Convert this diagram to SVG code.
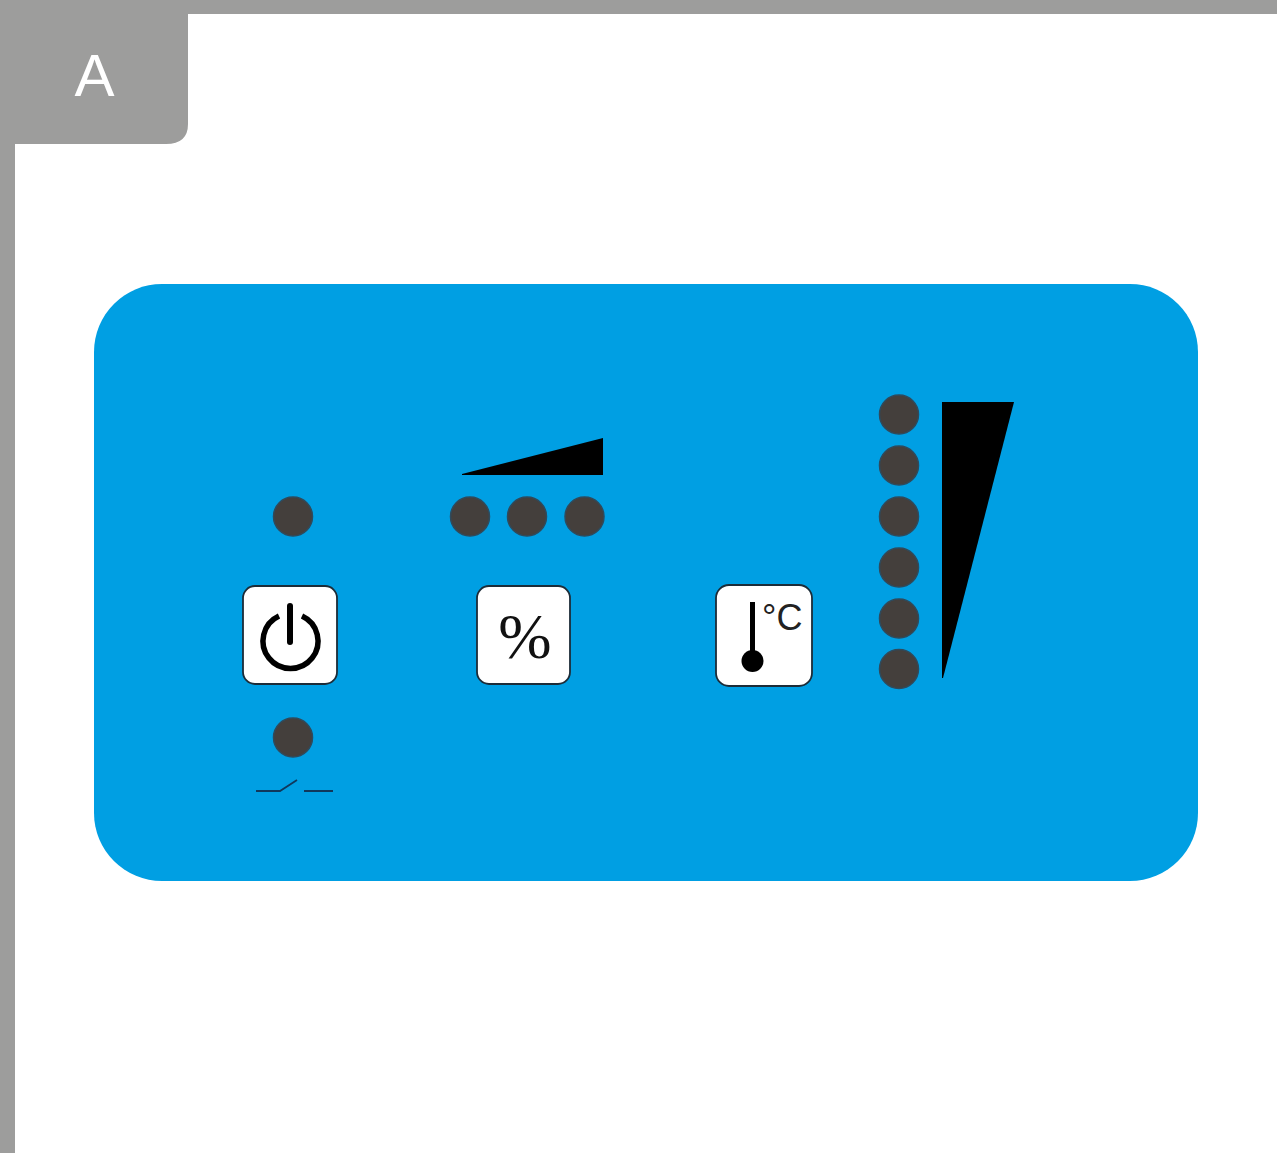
<svg xmlns="http://www.w3.org/2000/svg" width="1277" height="1153" viewBox="0 0 1277 1153">
<style>
.led{fill:#443f3c;stroke:#2f4a5c;stroke-width:1.5}
.btn{fill:#fff;stroke:#1c2c38;stroke-width:1.8}
.blk{fill:#000}
text{font-family:"Liberation Sans",Arial,sans-serif}
</style>
<rect width="1277" height="1153" fill="#fff"/>
<g id="frame">
<path fill="#9d9d9c" d="M0 0H1277V14H188V124Q188 144 166 144H15V1153H0Z"/>
<text x="94.500" y="96" font-size="60" fill="#fff" text-anchor="middle">A</text>
</g>
<rect id="panel" x="94" y="284" width="1104" height="597" rx="68" fill="#009fe3"/>
<g id="power">
<circle class="led" cx="293" cy="516.500" r="19.500"/>
<rect class="btn" x="243" y="586" width="94" height="98" rx="12"/>
<path fill="none" stroke="#000" stroke-width="5.500" d="M279 616A27.500 27.500 0 1 0 302 616"/>
<path fill="none" stroke="#000" stroke-width="6" stroke-linecap="round" d="M290 606V642"/>
<circle class="led" cx="293" cy="737.500" r="19.500"/>
<path fill="none" stroke="#10385c" stroke-width="1.800" d="M256 791H280L297 780M304 791H333"/>
</g>
<g id="humidity">
<polygon class="blk" points="462,474 603,438 603,475 462,475"/>
<circle class="led" cx="470" cy="516.500" r="19.500"/>
<circle class="led" cx="527" cy="516.500" r="19.500"/>
<circle class="led" cx="584.500" cy="516.500" r="19.500"/>
<rect class="btn" x="477" y="586" width="93" height="98" rx="12"/>
<text x="525" y="658" font-size="64" fill="#111" text-anchor="middle" style="font-family:'Liberation Serif',serif">%</text>
</g>
<g id="temperature">
<rect class="btn" x="716" y="585" width="96" height="101" rx="13"/>
<rect class="blk" x="750" y="602" width="5" height="50"/>
<circle class="blk" cx="752.500" cy="661" r="11"/>
<text x="762" y="630" font-size="36" fill="#222">°C</text>
</g>
<g id="level">
<circle class="led" cx="899" cy="414.500" r="19.500"/>
<circle class="led" cx="899" cy="465.500" r="19.500"/>
<circle class="led" cx="899" cy="516.500" r="19.500"/>
<circle class="led" cx="899" cy="567.500" r="19.500"/>
<circle class="led" cx="899" cy="618.500" r="19.500"/>
<circle class="led" cx="899" cy="669" r="19.500"/>
<polygon class="blk" points="942,402 1014,402 943,678 942,678"/>
</g>
</svg>
